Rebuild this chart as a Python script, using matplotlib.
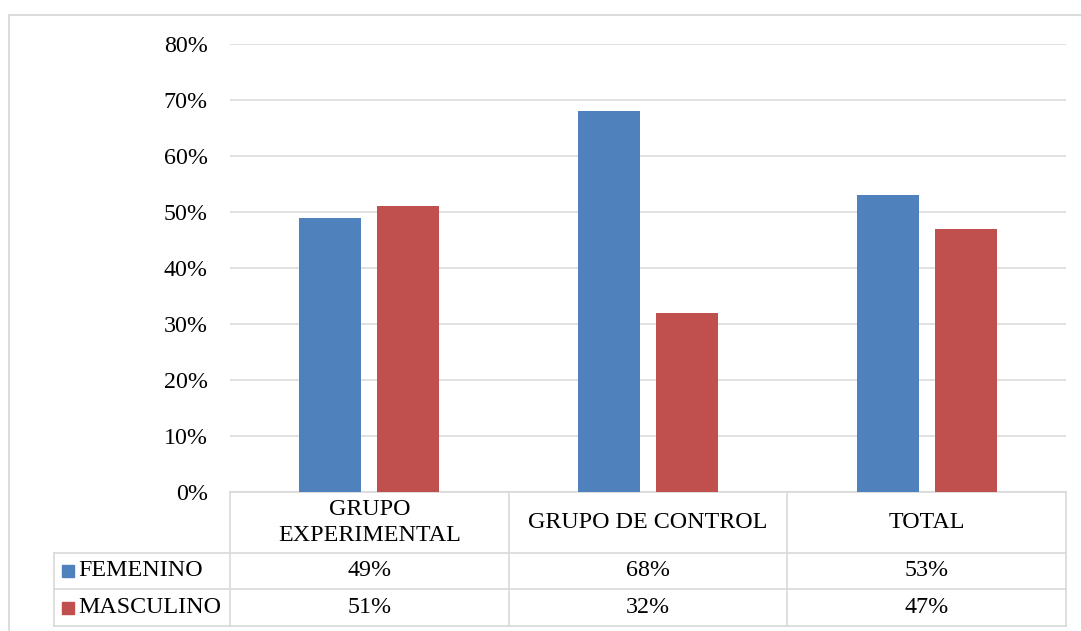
import matplotlib
matplotlib.use("Agg")
import matplotlib.pyplot as plt
import matplotlib.transforms as mtransforms
from matplotlib.patches import Rectangle
from matplotlib.lines import Line2D
import numpy as np

# Data
categories = ["GRUPO\nEXPERIMENTAL", "GRUPO DE CONTROL", "TOTAL"]
series_names = ["FEMENINO", "MASCULINO"]
femenino = [49, 68, 53]
masculino = [51, 32, 47]
y_ticks = [0, 10, 20, 30, 40, 50, 60, 70, 80]
colors = ["#4F81BD", "#C0504D"]

plt.rcParams["font.family"] = ["Liberation Serif", "DejaVu Serif"]
FS = 17.3
GRID = "#D9D9D9"

W, H = 1081, 631
fig = plt.figure(figsize=(W / 100, H / 100), dpi=100)

# Outer chart frame (top and left edges visible)
fig.patches.append(Rectangle((9 / W, -0.2), 1.2, 1.2 - 15 / H,
                             transform=fig.transFigure, fill=False,
                             edgecolor=GRID, lw=1.3, zorder=0))

ax = fig.add_axes([230 / W, (H - 492) / H, 836 / W, 448 / H])
x = np.arange(len(categories))
bw = 0.223
gap = 0.057
off = (bw + gap) / 2
ax.bar(x - off, femenino, bw, color=colors[0], zorder=3)
ax.bar(x + off, masculino, bw, color=colors[1], zorder=3)

ax.set_xlim(-0.5, len(categories) - 0.5)
ax.set_ylim(0, 80)
ax.set_yticks(y_ticks)
ax.set_yticklabels([f"{t}%" for t in y_ticks], fontsize=FS)
ax.tick_params(axis="y", length=0, pad=16)
ax.set_xticks([])
ax.grid(axis="y", color=GRID, lw=1.1, zorder=0)
for s in ax.spines.values():
    s.set_visible(False)

# Data table below the plot
trans = mtransforms.blended_transform_factory(ax.transData, ax.transAxes)
row_y = [0, -61 / 448, -97 / 448, -134 / 448]
left_x = (54 - 230) / 836
bounds = np.arange(len(categories) + 1) - 0.5

def hline(x0, x1, y, tr):
    ax.add_line(Line2D([x0, x1], [y, y], transform=tr, color=GRID,
                       lw=1.2, clip_on=False))

def vline(xv, y0, y1, tr):
    ax.add_line(Line2D([xv, xv], [y0, y1], transform=tr, color=GRID,
                       lw=1.2, clip_on=False))

# horizontal rules
hline(bounds[0], bounds[-1], row_y[0], trans)
for yy in row_y[1:]:
    hline(left_x, 1.0, yy, ax.transAxes)
# vertical rules
for b in bounds:
    vline(b, row_y[0], row_y[-1], trans)
vline(left_x, row_y[1], row_y[-1], ax.transAxes)

# header labels
for i, cat in enumerate(categories):
    ax.text(x[i], (row_y[0] + row_y[1]) / 2, cat, transform=trans,
            ha="center", va="center", fontsize=FS, linespacing=1.3)

# value rows with legend keys
for r, (name, vals, c) in enumerate(zip(series_names, [femenino, masculino], colors)):
    yc = (row_y[r + 1] + row_y[r + 2]) / 2
    for i, v in enumerate(vals):
        ax.text(x[i], yc, f"{v}%", transform=trans, ha="center",
                va="center", fontsize=FS)
    key_x = (62 - 230) / 836
    ax.add_patch(Rectangle((key_x, yc - 6 / 448), 12 / 836, 12 / 448,
                           transform=ax.transAxes, color=c, clip_on=False))
    ax.text((78 - 230) / 836, yc, name, transform=ax.transAxes,
            ha="left", va="center", fontsize=FS)

fig.savefig("out.png", dpi=100)
